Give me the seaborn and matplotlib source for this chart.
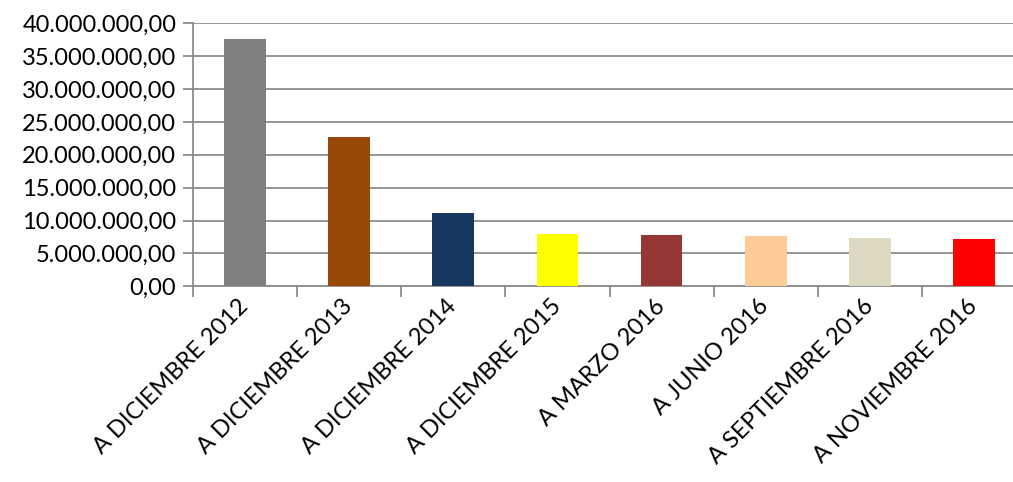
import matplotlib
matplotlib.use("Agg")
import matplotlib.pyplot as plt
import matplotlib.ticker as mticker
import seaborn as sns
import pandas as pd

# data
periodos = [
    "A DICIEMBRE 2012", "A DICIEMBRE 2013", "A DICIEMBRE 2014", "A DICIEMBRE 2015",
    "A MARZO 2016", "A JUNIO 2016", "A SEPTIEMBRE 2016", "A NOVIEMBRE 2016",
]
importes = [37600000, 22700000, 11150000, 7950000, 7800000, 7650000, 7350000, 7200000]
colores = ["#808080", "#984807", "#17375E", "#FFFF00", "#953735", "#FCCB98", "#DDD9C3", "#FF0000"]

df = pd.DataFrame({"periodo": periodos, "importe": importes})

sns.set_theme(style="white")
plt.rcParams["font.family"] = ["Lato", "DejaVu Sans"]

W, H = 1013, 482
fig = plt.figure(figsize=(W / 100, H / 100), dpi=100)
x0, x1 = 193, 1026
y0, y1 = 286.3, 23.3
ax = fig.add_axes([x0 / W, (H - y0) / H, (x1 - x0) / W, (y0 - y1) / H])

sns.barplot(data=df, x="periodo", y="importe", hue="periodo", palette=colores,
            width=0.4, legend=False, ax=ax, saturation=1, linewidth=0, zorder=3)

grid_col = "#8C8C8C"
ax.set_xlim(-0.5, len(periodos) - 0.5)
ax.set_ylim(0, 40000000)
ax.yaxis.set_major_locator(mticker.MultipleLocator(5000000))


def fmt_es(v, pos):
    s = f"{v:,.2f}"
    return s.replace(",", "X").replace(".", ",").replace("X", ".")


ax.yaxis.set_major_formatter(mticker.FuncFormatter(fmt_es))
ax.yaxis.grid(True, color=grid_col, linewidth=1.3, zorder=0)
ax.set_axisbelow(True)

for side in ["top", "right"]:
    ax.spines[side].set_visible(False)
for side in ["left", "bottom"]:
    ax.spines[side].set_color(grid_col)
    ax.spines[side].set_linewidth(1.3)

ax.set_xlabel("")
ax.set_ylabel("")
ax.tick_params(axis="y", direction="out", length=7, width=1.3, color=grid_col,
               labelsize=17, labelcolor="#000000", pad=5, left=True)
ax.tick_params(axis="x", which="major", length=0, labelsize=17, labelcolor="#000000", pad=12)
ax.set_xticks([i - 0.5 for i in range(len(periodos) + 1)], minor=True)
ax.tick_params(axis="x", which="minor", direction="out", length=8, width=1.3,
               color=grid_col, bottom=True)

for lbl in ax.get_xticklabels():
    lbl.set_rotation(45)
    lbl.set_ha("right")
    lbl.set_va("center")
    lbl.set_rotation_mode("anchor")

fig.savefig("out.png", dpi=100)
